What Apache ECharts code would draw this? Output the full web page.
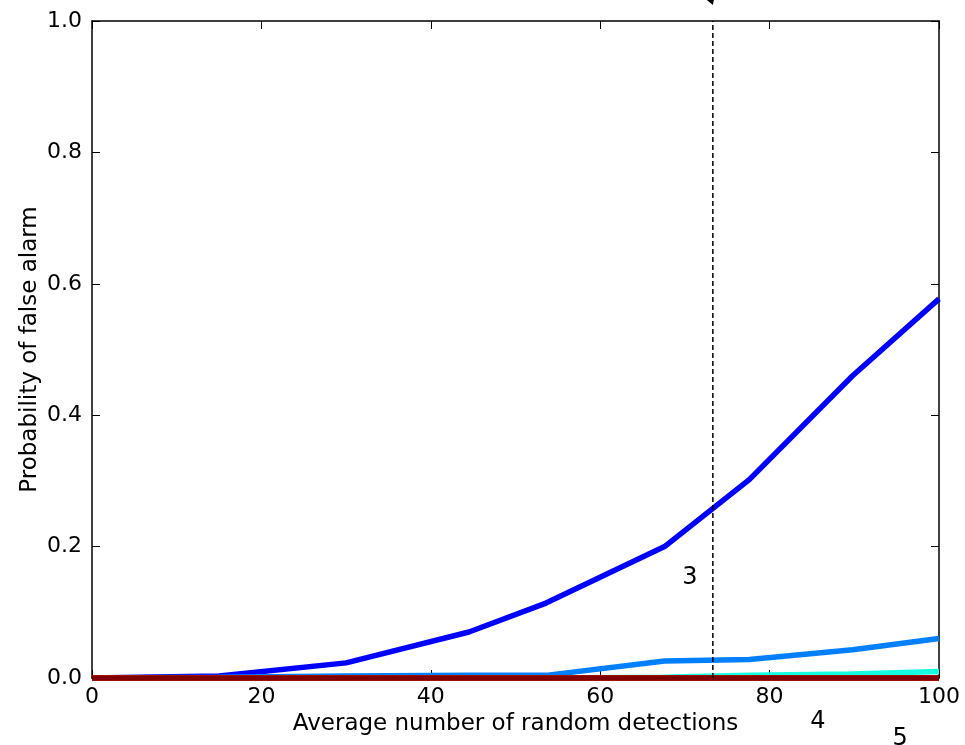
<!DOCTYPE html>
<html>
<head>
<meta charset="utf-8">
<script src="https://cdn.jsdelivr.net/npm/echarts@6/dist/echarts.min.js"></script>
<style>html,body{margin:0;padding:0;background:#fff;}#c{width:965px;height:745px;}</style>
</head>
<body>
<div id="c"></div>
<script>
var xVals = [0, 15, 30, 44.5, 53.6, 67.6, 77.6, 89.8, 100];
var seriesK3 = [0, 0.003, 0.023, 0.070, 0.114, 0.200, 0.302, 0.460, 0.577];
var seriesK4 = [0, 0.001, 0.003, 0.004, 0.004, 0.026, 0.028, 0.043, 0.060];
var seriesK5 = [0, 0, 0, 0, 0, 0.001, 0.004, 0.006, 0.010];
var seriesK6 = [0, 0, 0, 0, 0, 0, 0, 0, 0];
var seriesK7 = [0, 0, 0, 0, 0, 0, 0, 0, 0];
var seriesK8 = [0, 0, 0, 0, 0, 0, 0, 0, 0];
var seriesK9 = [0, 0, 0, 0, 0, 0, 0, 0, 0];
var seriesK10 = [0, 0, 0, 0, 0, 0, 0, 0, 0];
var seriesColors = ['#0000ff', '#0080ff', '#14ffe2', '#7bff7b', '#e2ff14', '#ff9700', '#ff2100', '#800000'];
var xTicks = [0, 20, 40, 60, 80, 100];
var yTicks = [0.0, 0.2, 0.4, 0.6, 0.8, 1.0];
var thresholdX = 73.3;
var annotations = [
  {text: '3', x: 70.6, y: 0.152},
  {text: '4', x: 85.7, y: -0.067},
  {text: '5', x: 95.4, y: -0.092}
];
var xLabel = 'Average number of random detections';
var yLabel = 'Probability of false alarm';

var allSeries = [seriesK3, seriesK4, seriesK5, seriesK6, seriesK7, seriesK8, seriesK9, seriesK10];
var FONT = 'DejaVu Sans';

var chart = echarts.init(document.getElementById('c'), null, {renderer: 'canvas'});

var series = allSeries.map(function (vals, i) {
  return {
    type: 'line',
    data: xVals.map(function (x, j) { return [x, vals[j]]; }),
    showSymbol: false,
    symbol: 'none',
    lineStyle: {color: seriesColors[i], width: 5.5},
    itemStyle: {color: seriesColors[i]},
    z: 2 + i,
    animation: false,
    clip: false
  };
});
series.push({
  type: 'line',
  data: [[thresholdX, 0], [thresholdX, 1]],
  symbol: 'none',
  lineStyle: {color: '#000', width: 1.5, type: [5, 3]},
  z: 20,
  animation: false
});

var axisCommon = {
  type: 'value',
  axisLine: {show: true, onZero: false, lineStyle: {color: '#000', width: 1.5}},
  axisTick: {show: true, inside: true, length: 8, lineStyle: {color: '#000', width: 1}},
  splitLine: {show: false}
};

chart.setOption({
  animation: false,
  backgroundColor: '#fff',
  grid: {left: 92, right: 26, top: 21, bottom: 67, containLabel: false},
  xAxis: [
    Object.assign({}, axisCommon, {
      min: 0, max: 100, interval: 20, position: 'bottom',
      name: xLabel, nameLocation: 'middle', nameGap: 35,
      nameTextStyle: {fontFamily: FONT, fontSize: 23, color: '#000'},
      axisLabel: {fontFamily: FONT, fontSize: 22, color: '#000', margin: 8,
        formatter: function (v) { return xTicks.indexOf(v) >= 0 ? String(v) : ''; }}
    }),
    Object.assign({}, axisCommon, {
      min: 0, max: 100, interval: 20, position: 'top', axisLabel: {show: false}
    })
  ],
  yAxis: [
    Object.assign({}, axisCommon, {
      min: 0, max: 1, interval: 0.2, position: 'left',
      name: yLabel, nameLocation: 'middle', nameGap: 50, nameMoveOverlap: false,
      nameTextStyle: {fontFamily: FONT, fontSize: 23, color: '#000'},
      axisLabel: {fontFamily: FONT, fontSize: 22, color: '#000', margin: 10,
        padding: [8, 0, 0, 0],
        formatter: function (v) { return v.toFixed(1); }}
    }),
    Object.assign({}, axisCommon, {
      min: 0, max: 1, interval: 0.2, position: 'right', axisLabel: {show: false}
    })
  ],
  series: series
});

function drawAnnotations() {
  var g = annotations.map(function (a) {
    var p = chart.convertToPixel({xAxisIndex: 0, yAxisIndex: 0}, [a.x, a.y]);
    return {
      type: 'text', x: p[0], y: p[1], z: 50,
      style: {text: a.text, fontFamily: FONT, fontSize: 24, fill: '#000', align: 'center', verticalAlign: 'middle'}
    };
  });
  var tip = chart.convertToPixel({xAxisIndex: 0, yAxisIndex: 0}, [thresholdX, 1]);
  g.push({
    type: 'polygon', z: 50,
    shape: {points: [[tip[0] - 6, tip[1] - 21], [tip[0] + 1, tip[1] - 21], [tip[0], tip[1] - 16]]},
    style: {fill: '#000'}
  });
  chart.setOption({graphic: g});
}
drawAnnotations();
</script>
</body>
</html>
